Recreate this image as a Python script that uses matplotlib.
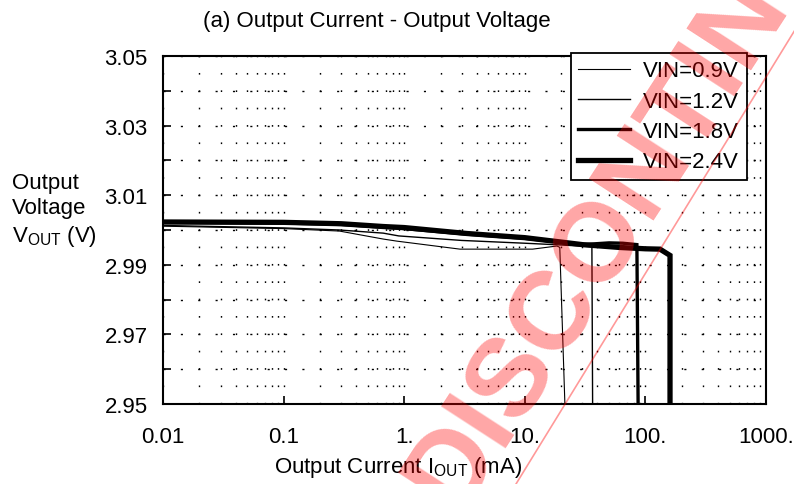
import numpy as np
import matplotlib
matplotlib.use('Agg')
import matplotlib.pyplot as plt
from matplotlib.lines import Line2D
from matplotlib.ticker import FixedLocator, NullFormatter, LogLocator

plt.rcParams['font.family'] = ['Liberation Sans', 'DejaVu Sans']

# data (IOUT in mA, VOUT in V)
x_09 = [0.01, 0.1, 0.29, 0.67, 0.87, 2.9, 11.6, 18.5, 19.5, 21.5]
y_09 = [3.0011, 3.0004, 2.9997, 2.9974, 2.9968, 2.9945, 2.9945, 2.9954, 2.9950, 2.95]
x_12 = [0.01, 0.1, 0.29, 0.67, 0.9, 3.0, 10.0, 20.0, 36.0, 36.5]
y_12 = [3.0013, 3.0006, 3.0000, 2.9991, 2.9983, 2.9970, 2.9962, 2.9957, 2.9952, 2.95]
x_18 = [0.01, 0.1, 0.3, 0.67, 1.0, 3.3, 10.0, 30.0, 50.0, 65.0, 85.0, 87.0]
y_18 = [3.0022, 3.0020, 3.0016, 3.0008, 3.0004, 2.9988, 2.9976, 2.9958, 2.9963, 2.9962, 2.9958, 2.95]
x_24 = [0.01, 0.1, 0.3, 0.67, 1.0, 3.3, 10.0, 30.0, 60.0, 100.0, 132.0, 160.0, 160.0]
y_24 = [3.0023, 3.0022, 3.0018, 3.0010, 3.0007, 2.9990, 2.9978, 2.9958, 2.9950, 2.9946, 2.9945, 2.9927, 2.95]

labels = ['VIN=0.9V', 'VIN=1.2V', 'VIN=1.8V', 'VIN=2.4V']
widths = [0.8, 1.0, 2.4, 3.8]

xticks = [0.01, 0.1, 1, 10, 100, 1000]
xticklabels = ['0.01', '0.1', '1.', '10.', '100.', '1000.']
yticks = [2.95, 2.97, 2.99, 3.01, 3.03, 3.05]

fs = 16

fig = plt.figure(figsize=(7.94, 4.85), dpi=100)
ax = fig.add_axes([163/794, 1-405/485, 603/794, 348/485])

for xs, ys, lab, lw in zip([x_09, x_12, x_18, x_24], [y_09, y_12, y_18, y_24], labels, widths):
    ax.plot(xs, ys, color='black', lw=lw, label=lab, solid_joinstyle='miter')

ax.set_xscale('log')
ax.set_xlim(0.01, 1000)
ax.set_ylim(2.95, 3.05)
ax.set_xticks(xticks)
ax.set_xticklabels(xticklabels)
ax.xaxis.set_minor_locator(LogLocator(base=10, subs=np.arange(2, 10)))
ax.xaxis.set_minor_formatter(NullFormatter())
ax.set_yticks(yticks)
ax.set_yticklabels(['%.2f' % v for v in yticks])
ax.yaxis.set_minor_locator(FixedLocator([2.96, 2.98, 3.00, 3.02, 3.04]))
ax.tick_params(which='major', direction='in', length=6, width=1.2, labelsize=fs)
ax.tick_params(axis='y', which='major', pad=11)
ax.tick_params(axis='x', which='major', pad=16)
ax.tick_params(which='minor', axis='y', direction='in', length=6, width=1.2)
ax.tick_params(which='minor', axis='x', length=0)
for s in ax.spines.values():
    s.set_linewidth(1.5)

# grid: dotted verticals, sparse dashed horizontals
ax.grid(True, which='both', axis='x', color='black', lw=1.0, ls=(0, (1.2, 11.3)))
ax.grid(True, which='both', axis='y', color='black', lw=1.0, ls=(0, (1.5, 11)))

leg = ax.legend(loc='upper right', bbox_to_anchor=(0.968, 1.01), fontsize=fs,
                frameon=True, fancybox=False, handlelength=2.3, labelspacing=0.42,
                handletextpad=0.6, borderpad=0.35, borderaxespad=0)
leg.get_frame().set_edgecolor('black')
leg.get_frame().set_linewidth(1.3)
leg.get_frame().set_alpha(1)

fig.text(203/794, 1-22/485, '(a) Output Current - Output Voltage', fontsize=fs, ha='left', va='center')
fig.text(398/794, 1-468/485, 'Output Current I$_{\\mathregular{OUT}}$ (mA)', fontsize=fs, ha='center', va='center')
fig.text(12/794, 1-211/485, 'Output\nVoltage\nV$_{\\mathregular{OUT}}$ (V)', fontsize=fs, ha='left', va='center', linespacing=1.25)

# discontinued stamp
fig.text(652/794, 1-138/485, 'DISCONTINUED', fontsize=80, fontweight='bold', color='red', alpha=0.35,
         rotation=57, rotation_mode='anchor', ha='center', va='center_baseline', zorder=10)
fig.add_artist(Line2D([516/794, 814/794], [0, 1], color='red', alpha=0.4, lw=1.2, zorder=10))

fig.savefig('out.png', dpi=100)
